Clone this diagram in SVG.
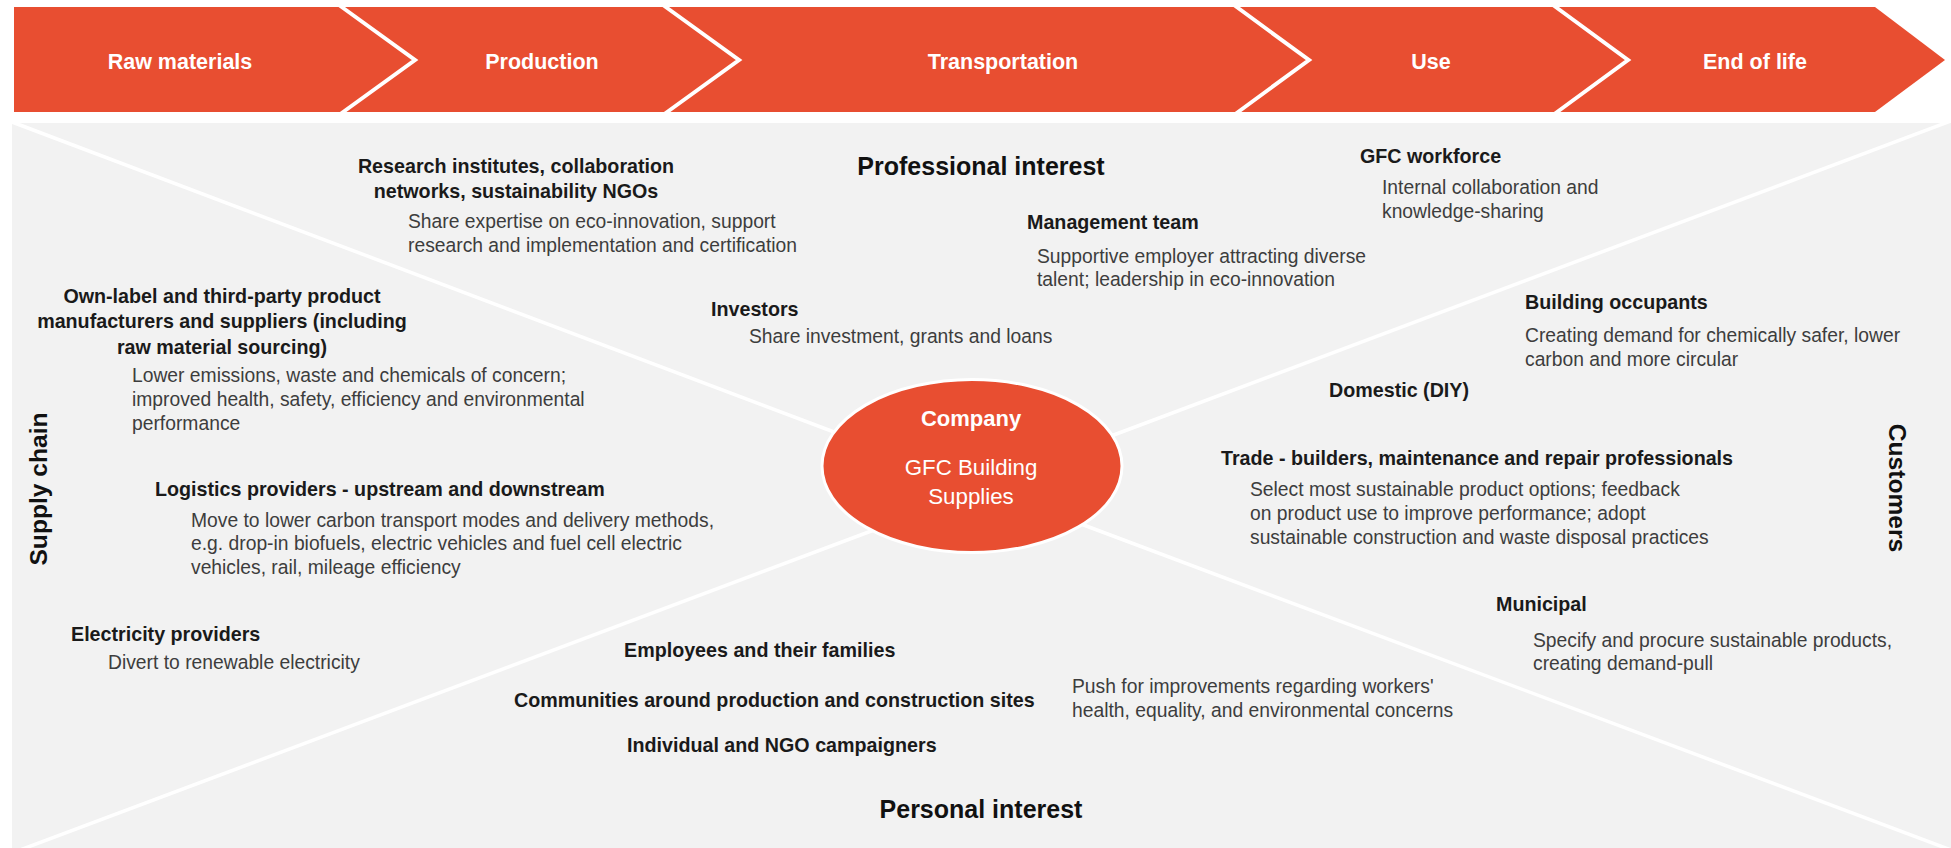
<svg xmlns="http://www.w3.org/2000/svg" width="1951" height="848" viewBox="0 0 1951 848">
<style>
text{font-family:"Liberation Sans",Arial,sans-serif}
.h{font-weight:bold;font-size:19.7px;fill:#1a1a1a}
.b{font-size:19.3px;fill:#3d3d3d}
.m{text-anchor:middle}
.stage{font-weight:bold;font-size:21.5px;fill:#fff;text-anchor:middle}
.axis{font-weight:bold;font-size:25px;fill:#111;text-anchor:middle}
.side{font-weight:bold;font-size:24.6px;fill:#111;text-anchor:middle}
.conn{stroke:#fff;stroke-width:3.5;fill:none}
.chev{stroke:#fff;stroke-width:4;fill:none}
</style>
<rect x="0" y="0" width="1951" height="848" fill="#fff"/>
<g id="lifecycle">
<polygon points="14,7 1875,7 1945,60 1875,112 14,112" fill="#e84e31"/>
<polyline class="chev" points="339,5 415,60 339,115"/>
<polyline class="chev" points="663,5 739,60 663,115"/>
<polyline class="chev" points="1234,5 1309,60 1234,115"/>
<polyline class="chev" points="1553,5 1628,60 1553,115"/>
<text class="stage" x="180" y="68.5">Raw materials</text>
<text class="stage" x="542" y="68.5">Production</text>
<text class="stage" x="1003" y="68.5">Transportation</text>
<text class="stage" x="1431" y="68.5">Use</text>
<text class="stage" x="1755" y="68.5">End of life</text>
</g>
<rect id="panel" x="12" y="123" width="1939" height="725" fill="#f2f2f2"/>
<g id="connectors">
<line class="conn" x1="12" y1="122" x2="850" y2="438"/>
<line class="conn" x1="1951" y1="121" x2="1095" y2="442"/>
<line class="conn" x1="12" y1="853" x2="890" y2="524"/>
<line class="conn" x1="1065" y1="518" x2="1951" y2="850"/>
</g>
<g id="company">
<ellipse cx="972" cy="466" rx="150" ry="86.5" fill="#e84e31" stroke="#fff" stroke-width="3"/>
<text x="971" y="426" text-anchor="middle" font-weight="bold" font-size="22px" fill="#fff">Company</text>
<text x="971" y="475" text-anchor="middle" font-size="22.3px" fill="#fff">GFC Building</text>
<text x="971" y="504" text-anchor="middle" font-size="22.3px" fill="#fff">Supplies</text>
</g>
<g id="axis-labels">
<text class="axis" x="981" y="175">Professional interest</text>
<text class="axis" x="981" y="818">Personal interest</text>
<text class="side" transform="translate(47,489) rotate(-90)">Supply chain</text>
<text class="side" transform="translate(1889,488) rotate(90)">Customers</text>
</g>
<g id="research">
<text class="h m" x="516" y="173">Research institutes, collaboration</text>
<text class="h m" x="516" y="198">networks, sustainability NGOs</text>
<text class="b" x="408" y="228">Share expertise on eco-innovation, support</text>
<text class="b" x="408" y="252">research and implementation and certification</text>
</g>
<g id="management">
<text class="h" x="1027" y="229">Management team</text>
<text class="b" x="1037" y="263">Supportive employer attracting diverse</text>
<text class="b" x="1037" y="286">talent; leadership in eco-innovation</text>
</g>
<g id="investors">
<text class="h" x="711" y="316">Investors</text>
<text class="b" x="749" y="343">Share investment, grants and loans</text>
</g>
<g id="workforce">
<text class="h" x="1360" y="163">GFC workforce</text>
<text class="b" x="1382" y="194">Internal collaboration and</text>
<text class="b" x="1382" y="218">knowledge-sharing</text>
</g>
<g id="occupants">
<text class="h" x="1525" y="309">Building occupants</text>
<text class="b" x="1525" y="342">Creating demand for chemically safer, lower</text>
<text class="b" x="1525" y="366">carbon and more circular</text>
</g>
<g id="domestic">
<text class="h" x="1329" y="397">Domestic (DIY)</text>
</g>
<g id="trade">
<text class="h" x="1221" y="465">Trade - builders, maintenance and repair professionals</text>
<text class="b" x="1250" y="496">Select most sustainable product options; feedback</text>
<text class="b" x="1250" y="520">on product use to improve performance; adopt</text>
<text class="b" x="1250" y="544">sustainable construction and waste disposal practices</text>
</g>
<g id="municipal">
<text class="h" x="1496" y="611">Municipal</text>
<text class="b" x="1533" y="647">Specify and procure sustainable products,</text>
<text class="b" x="1533" y="670">creating demand-pull</text>
</g>
<g id="manufacturers">
<text class="h m" x="222" y="303">Own-label and third-party product</text>
<text class="h m" x="222" y="328">manufacturers and suppliers (including</text>
<text class="h m" x="222" y="354">raw material sourcing)</text>
<text class="b" x="132" y="382">Lower emissions, waste and chemicals of concern;</text>
<text class="b" x="132" y="406">improved health, safety, efficiency and environmental</text>
<text class="b" x="132" y="430">performance</text>
</g>
<g id="logistics">
<text class="h" x="155" y="496">Logistics providers - upstream and downstream</text>
<text class="b" x="191" y="527">Move to lower carbon transport modes and delivery methods,</text>
<text class="b" x="191" y="550">e.g. drop-in biofuels, electric vehicles and fuel cell electric</text>
<text class="b" x="191" y="574">vehicles, rail, mileage efficiency</text>
</g>
<g id="electricity">
<text class="h" x="71" y="641">Electricity providers</text>
<text class="b" x="108" y="669">Divert to renewable electricity</text>
</g>
<g id="personal">
<text class="h" x="624" y="657">Employees and their families</text>
<text class="h" x="514" y="707">Communities around production and construction sites</text>
<text class="h" x="627" y="752">Individual and NGO campaigners</text>
<text class="b" x="1072" y="693">Push for improvements regarding workers'</text>
<text class="b" x="1072" y="717">health, equality, and environmental concerns</text>
</g>
</svg>
